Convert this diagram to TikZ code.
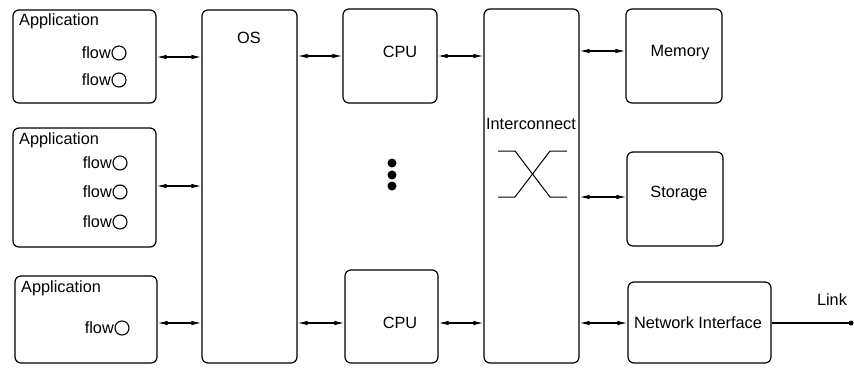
\documentclass[tikz,border=0pt]{standalone}
\usepackage{fontspec}
\setmainfont{Liberation Sans}
\usetikzlibrary{arrows.meta,calc}

\tikzset{
  box/.style={draw, line width=1.2pt, rounded corners=6pt, rectangle, inner sep=0pt},
  lbl/.style={font=\fontsize{16.3}{19}\selectfont, inner sep=0pt},
  flowtxt/.style={lbl, anchor=east},
  port/.style={draw, line width=1.1pt, circle, minimum size=14pt, inner sep=0pt},
  biarrow/.style={line width=1.1pt, {Latex[length=10pt,width=4.5pt]}-{Latex[length=10pt,width=4.5pt]}},
  dotmark/.style={fill, circle, minimum size=9pt, inner sep=0pt},
  xline/.style={line width=1pt}
}

\begin{document}
\begin{tikzpicture}[x=1pt, y=-1pt]
\useasboundingbox (0,0) rectangle (854,367);

% applications
\node[box, minimum width=143pt, minimum height=93pt]  (app1) at (84.5,56.5) {};
\node[box, minimum width=143pt, minimum height=119pt] (app2) at (84.5,187.5) {};
\node[box, minimum width=142pt, minimum height=87pt]  (app3) at (86,319.5) {};
\node[lbl, anchor=west] (app1t) at (19,21)  {Application};
\node[lbl, anchor=west] (app2t) at (19,140) {Application};
\node[lbl, anchor=west] (app3t) at (21,288) {Application};

% flows with their ports
\node[port] (p1) at (119,53)  {};  \node[flowtxt] (f1) at (111,53)  {flow};
\node[port] (p2) at (119,80)  {};  \node[flowtxt] (f2) at (111,80)  {flow};
\node[port] (p3) at (120,163) {};  \node[flowtxt] (f3) at (112,163) {flow};
\node[port] (p4) at (120,192) {};  \node[flowtxt] (f4) at (112,192) {flow};
\node[port] (p5) at (120,222) {};  \node[flowtxt] (f5) at (112,222) {flow};
\node[port] (p6) at (122,328) {};  \node[flowtxt] (f6) at (114,328) {flow};

% operating system
\node[box, minimum width=95pt, minimum height=353pt] (os) at (249.5,186.5) {};
\node[lbl] (ost) at (249,38) {OS};

% processors
\node[box, minimum width=94pt, minimum height=94pt] (cpu1) at (390,56) {};
\node[box, minimum width=93pt, minimum height=93pt] (cpu2) at (391.5,316.5) {};
\node[lbl] (cpu1t) at (400,52)  {CPU};
\node[lbl] (cpu2t) at (400,323) {CPU};
\node[dotmark] (d1) at (392,163) {};
\node[dotmark] (d2) at (392,175) {};
\node[dotmark] (d3) at (392,186) {};

% interconnect with crossbar symbol
\node[box, minimum width=95pt, minimum height=354pt] (ic) at (531.5,186) {};
\node[lbl] (ict) at (531,124) {Interconnect};
\draw[xline] (498,151) -- (515,151) -- (550,197) -- (567,197);
\draw[xline] (498,197) -- (515,197) -- (550,151) -- (567,151);

% devices
\node[box, minimum width=96pt, minimum height=94pt] (mem) at (674,56) {};
\node[box, minimum width=96pt, minimum height=94pt] (sto) at (675,199) {};
\node[box, minimum width=143pt, minimum height=81pt] (nic) at (699.5,322.5) {};
\node[lbl] (memt) at (680,53)  {Memory};
\node[lbl] (stot) at (679,193) {Storage};
\node[lbl] (nict) at (698,323) {Network Interface};

% external link
\coordinate (linkend) at (851,323);
\draw[line width=1.1pt] (nic.east |- linkend) -- (linkend);
\fill (linkend) circle (2.5pt);
\node[lbl] (linkt) at (832,300) {Link};

% connections
\draw[biarrow] (app1.east |- 0,57)  -- (os.west |- 0,57);
\draw[biarrow] (app2.east |- 0,186) -- (os.west |- 0,186);
\draw[biarrow] (app3.east |- 0,323) -- (os.west |- 0,323);
\draw[biarrow] (os.east |- 0,56)    -- (cpu1.west |- 0,56);
\draw[biarrow] (os.east |- 0,323)   -- (cpu2.west |- 0,323);
\draw[biarrow] (cpu1.east |- 0,56)  -- (ic.west |- 0,56);
\draw[biarrow] (cpu2.east |- 0,323) -- (ic.west |- 0,323);
\draw[biarrow] (ic.east |- 0,51)    -- (mem.west |- 0,51);
\draw[biarrow] (ic.east |- 0,197)   -- (sto.west |- 0,197);
\draw[biarrow] (ic.east |- 0,323)   -- (nic.west |- 0,323);
\end{tikzpicture}
\end{document}
